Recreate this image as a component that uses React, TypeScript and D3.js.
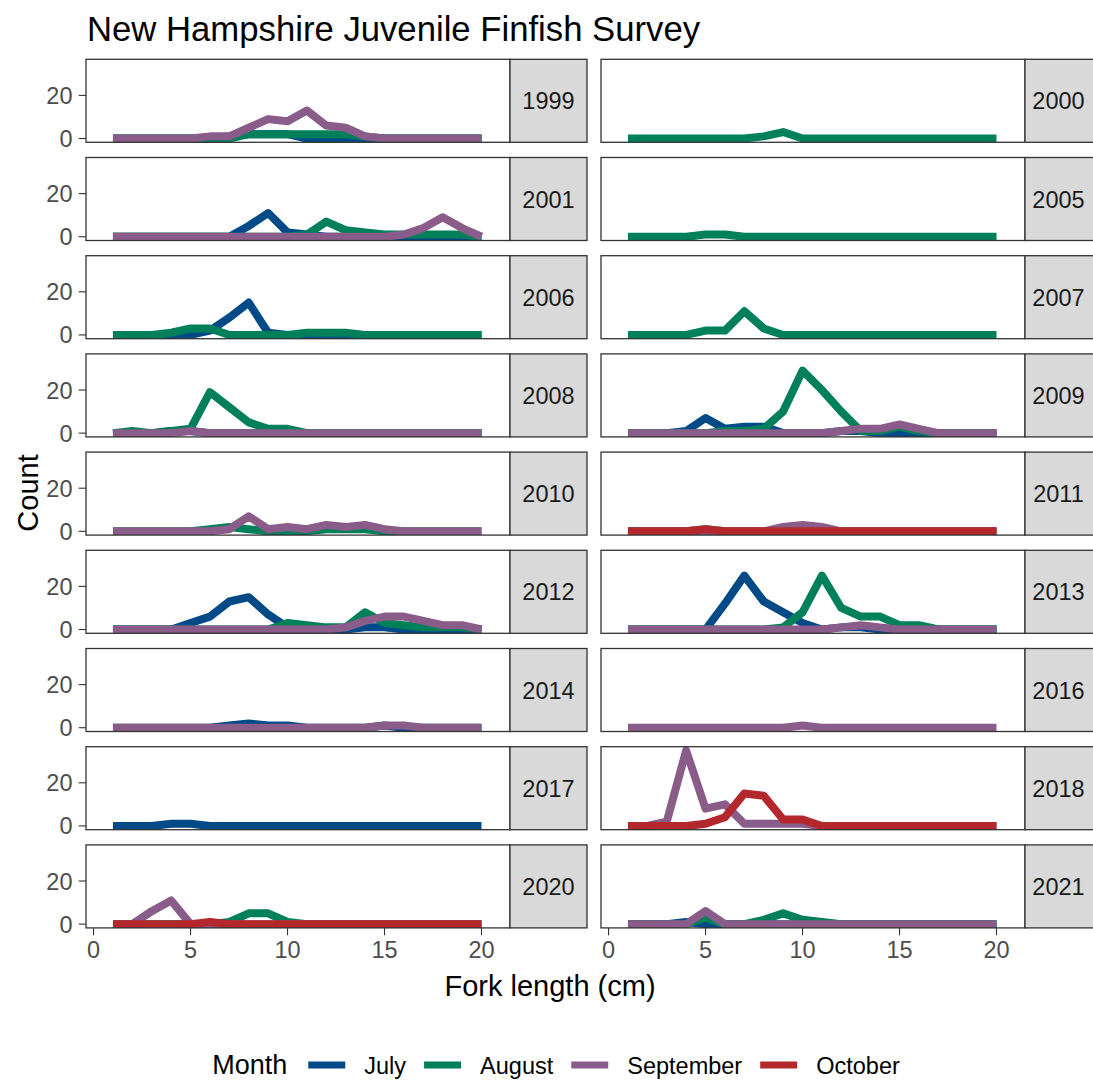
import { useRef, useEffect } from 'react';
import * as d3 from 'd3';

const WIDTH = 1093;
const HEIGHT = 1080;
const FONT = '"Liberation Sans", Arial, sans-serif';

// fork length bins (cm)
const LENGTHS = [1, 2, 3, 4, 5, 6, 7, 8, 9, 10, 11, 12, 13, 14, 15, 16, 17, 18, 19, 20];
const YEARS = [1999, 2000, 2001, 2005, 2006, 2007, 2008, 2009, 2010, 2011, 2012, 2013, 2014, 2016, 2017, 2018, 2020, 2021];
const MONTHS = ['July', 'August', 'September', 'October'];
const MONTH_COLORS = ['#004B87', '#00805A', '#8A5C8A', '#B2282D'];
const X_TICKS = [0, 5, 10, 15, 20];
const Y_TICKS = [0, 20];

// counts per length bin, by year
const JULY: [number, number[]][] = [
	[1999, [0, 0, 0, 0, 0, 0, 1, 2, 2, 2, 0, 0, 0, 0, 0, 0, 0, 0, 0, 0]],
	[2001, [0, 0, 0, 0, 0, 0, 0, 5, 11, 2, 1, 0, 0, 0, 0, 0, 0, 0, 0, 0]],
	[2006, [0, 0, 0, 0, 0, 2, 8, 15, 1, 0, 0, 0, 0, 0, 0, 0, 0, 0, 0, 0]],
	[2008, [0, 0, 0, 1, 1, 0, 0, 0, 0, 0, 0, 0, 0, 0, 0, 0, 0, 0, 0, 0]],
	[2009, [0, 0, 0, 1, 7, 2, 3, 3, 0, 0, 0, 1, 1, 0, 0, 0, 0, 0, 0, 0]],
	[2012, [0, 0, 0, 0, 3, 6, 13, 15, 7, 1, 0, 0, 0, 1, 1, 0, 0, 0, 0, 0]],
	[2013, [0, 0, 0, 0, 0, 12, 25, 13, 8, 3, 0, 1, 1, 0, 0, 0, 0, 0, 0, 0]],
	[2014, [0, 0, 0, 0, 0, 0, 1, 2, 1, 1, 0, 0, 0, 0, 1, 0, 0, 0, 0, 0]],
	[2017, [0, 0, 0, 1, 1, 0, 0, 0, 0, 0, 0, 0, 0, 0, 0, 0, 0, 0, 0, 0]],
	[2021, [0, 0, 0, 1, 0, 0, 0, 0, 0, 0, 0, 0, 0, 0, 0, 0, 0, 0, 0, 0]],
];

const AUGUST: [number, number[]][] = [
	[1999, [0, 0, 0, 0, 0, 0, 0, 2, 2, 2, 2, 2, 2, 1, 0, 0, 0, 0, 0, 0]],
	[2000, [0, 0, 0, 0, 0, 0, 0, 1, 3, 0, 0, 0, 0, 0, 0, 0, 0, 0, 0, 0]],
	[2001, [0, 0, 0, 0, 0, 0, 0, 0, 0, 0, 1, 7, 3, 2, 1, 1, 1, 1, 1, 0]],
	[2005, [0, 0, 0, 0, 1, 1, 0, 0, 0, 0, 0, 0, 0, 0, 0, 0, 0, 0, 0, 0]],
	[2006, [0, 0, 0, 1, 3, 3, 0, 0, 0, 0, 1, 1, 1, 0, 0, 0, 0, 0, 0, 0]],
	[2007, [0, 0, 0, 0, 2, 2, 11, 3, 0, 0, 0, 0, 0, 0, 0, 0, 0, 0, 0, 0]],
	[2008, [0, 1, 0, 1, 2, 19, 12, 5, 2, 2, 0, 0, 0, 0, 0, 0, 0, 0, 0, 0]],
	[2009, [0, 0, 0, 0, 0, 1, 1, 2, 10, 29, 20, 10, 1, 1, 3, 1, 0, 0, 0, 0]],
	[2010, [0, 0, 0, 0, 0, 1, 2, 1, 0, 0, 0, 1, 1, 1, 0, 0, 0, 0, 0, 0]],
	[2011, [0, 0, 0, 0, 1, 0, 0, 0, 0, 2, 1, 0, 0, 0, 0, 0, 0, 0, 0, 0]],
	[2012, [0, 0, 0, 0, 0, 0, 0, 0, 0, 3, 2, 1, 1, 8, 3, 2, 1, 1, 1, 0]],
	[2013, [0, 0, 0, 0, 0, 0, 0, 0, 1, 8, 25, 10, 6, 6, 2, 2, 0, 0, 0, 0]],
	[2020, [0, 0, 0, 0, 0, 0, 1, 5, 5, 1, 0, 0, 0, 0, 0, 0, 0, 0, 0, 0]],
	[2021, [0, 0, 0, 0, 3, 0, 0, 2, 5, 2, 1, 0, 0, 0, 0, 0, 0, 0, 0, 0]],
];

const SEPTEMBER: [number, number[]][] = [
	[1999, [0, 0, 0, 0, 0, 1, 1, 5, 9, 8, 13, 6, 5, 1, 0, 0, 0, 0, 0, 0]],
	[2001, [0, 0, 0, 0, 0, 0, 0, 0, 0, 0, 0, 0, 0, 0, 0, 1, 4, 9, 4, 0]],
	[2008, [0, 0, 0, 0, 1, 0, 0, 0, 0, 0, 0, 0, 0, 0, 0, 0, 0, 0, 0, 0]],
	[2009, [0, 0, 0, 0, 0, 0, 0, 0, 0, 0, 0, 1, 2, 2, 4, 2, 0, 0, 0, 0]],
	[2010, [0, 0, 0, 0, 0, 0, 1, 7, 1, 2, 1, 3, 2, 3, 1, 0, 0, 0, 0, 0]],
	[2011, [0, 0, 0, 0, 0, 0, 0, 0, 2, 3, 2, 0, 0, 0, 0, 0, 0, 0, 0, 0]],
	[2012, [0, 0, 0, 0, 0, 0, 0, 0, 0, 0, 0, 0, 1, 4, 6, 6, 4, 2, 2, 0]],
	[2013, [0, 0, 0, 0, 0, 0, 0, 0, 0, 0, 0, 1, 2, 1, 0, 0, 0, 0, 0, 0]],
	[2014, [0, 0, 0, 0, 0, 0, 0, 0, 0, 0, 0, 0, 0, 0, 1, 1, 0, 0, 0, 0]],
	[2016, [0, 0, 0, 0, 0, 0, 0, 0, 0, 1, 0, 0, 0, 0, 0, 0, 0, 0, 0, 0]],
	[2018, [0, 0, 2, 35, 8, 10, 1, 1, 1, 1, 0, 0, 0, 0, 0, 0, 0, 0, 0, 0]],
	[2020, [0, 0, 6, 11, 0, 0, 0, 0, 0, 0, 0, 0, 0, 0, 0, 0, 0, 0, 0, 0]],
	[2021, [0, 0, 0, 0, 6, 0, 0, 0, 0, 0, 0, 0, 0, 0, 0, 0, 0, 0, 0, 0]],
];

const OCTOBER: [number, number[]][] = [
	[2011, [0, 0, 0, 0, 1, 0, 0, 0, 0, 0, 0, 0, 0, 0, 0, 0, 0, 0, 0, 0]],
	[2018, [0, 0, 0, 0, 1, 4, 15, 14, 3, 3, 0, 0, 0, 0, 0, 0, 0, 0, 0, 0]],
	[2020, [0, 0, 0, 0, 0, 1, 0, 0, 0, 0, 0, 0, 0, 0, 0, 0, 0, 0, 0, 0]],
];

const SERIES = [JULY, AUGUST, SEPTEMBER, OCTOBER];

// layout
const COL_LEFT = [86, 601];
const PANEL_W = 424;
const STRIP_W = [77, 67];
const PANEL_TOP = 59.3;
const PANEL_H = 83;
const ROW_STEP = 98.2;

const Chart = () => {
	const ref = useRef<SVGSVGElement>(null);

	useEffect(() => {
		const svg = d3.select(ref.current);
		svg.selectAll('*').remove();

		svg.append('rect').attr('width', WIDTH).attr('height', HEIGHT).attr('fill', 'white');

		svg.append('text')
			.attr('x', 87).attr('y', 41)
			.attr('font-size', 34.7).attr('fill', '#000')
			.text('New Hampshire Juvenile Finfish Survey');

		const yScaleFor = (row: number) => d3.scaleLinear()
			.domain([-1.75, 36.75])
			.range([PANEL_TOP + row * ROW_STEP + PANEL_H, PANEL_TOP + row * ROW_STEP]);

		const nRows = Math.ceil(YEARS.length / 2);

		YEARS.forEach((year, i) => {
			const row = Math.floor(i / 2);
			const col = i % 2;
			const left = COL_LEFT[col];
			const top = PANEL_TOP + row * ROW_STEP;

			const xScale = d3.scaleLinear().domain([-0.39, 21.47]).range([left, left + PANEL_W]);
			const yScale = yScaleFor(row);

			const clipId = `clip-${year}`;
			svg.append('clipPath').attr('id', clipId)
				.append('rect')
				.attr('x', left).attr('y', top).attr('width', PANEL_W).attr('height', PANEL_H);

			const g = svg.append('g').attr('clip-path', `url(#${clipId})`);

			const line = d3.line<number>()
				.x((_, k) => xScale(LENGTHS[k]))
				.y(d => yScale(d));

			SERIES.forEach((rows, m) => {
				const found = rows.find(r => r[0] === year);
				if (!found) return;
				g.append('path')
					.attr('d', line(found[1]))
					.attr('fill', 'none')
					.attr('stroke', MONTH_COLORS[m])
					.attr('stroke-width', 8)
					.attr('stroke-linejoin', 'round')
					.attr('stroke-linecap', 'butt');
			});

			// panel border
			svg.append('rect')
				.attr('x', left).attr('y', top).attr('width', PANEL_W).attr('height', PANEL_H)
				.attr('fill', 'none').attr('stroke', '#333333').attr('stroke-width', 1.3);

			// strip on the right
			svg.append('rect')
				.attr('x', left + PANEL_W).attr('y', top).attr('width', STRIP_W[col] + (col === 1 ? 4 : 0)).attr('height', PANEL_H)
				.attr('fill', '#D9D9D9').attr('stroke', '#333333').attr('stroke-width', 1.3);
			svg.append('text')
				.attr('x', left + PANEL_W + STRIP_W[col] / 2).attr('y', top + PANEL_H / 2 + 8.5)
				.attr('text-anchor', 'middle').attr('font-size', 23.5).attr('fill', '#1A1A1A')
				.text(String(year));

			// y axis on left column
			if (col === 0) {
				Y_TICKS.forEach(t => {
					const y = yScale(t);
					svg.append('line')
						.attr('x1', left - 7.3).attr('x2', left).attr('y1', y).attr('y2', y)
						.attr('stroke', '#333333').attr('stroke-width', 1.1);
					svg.append('text')
						.attr('x', left - 13.5).attr('y', y + 8.5)
						.attr('text-anchor', 'end').attr('font-size', 23.5).attr('fill', '#4D4D4D')
						.text(String(t));
				});
			}

			// x axis on bottom row
			if (row === nRows - 1) {
				X_TICKS.forEach(t => {
					const x = xScale(t);
					svg.append('line')
						.attr('x1', x).attr('x2', x).attr('y1', top + PANEL_H).attr('y2', top + PANEL_H + 7.3)
						.attr('stroke', '#333333').attr('stroke-width', 1.1);
					svg.append('text')
						.attr('x', x).attr('y', top + PANEL_H + 30)
						.attr('text-anchor', 'middle').attr('font-size', 23.5).attr('fill', '#4D4D4D')
						.text(String(t));
				});
			}
		});

		// axis titles
		svg.append('text')
			.attr('x', 550).attr('y', 996)
			.attr('text-anchor', 'middle').attr('font-size', 29).attr('fill', '#000')
			.text('Fork length (cm)');
		svg.append('text')
			.attr('transform', 'translate(38, 493) rotate(-90)')
			.attr('text-anchor', 'middle').attr('font-size', 29).attr('fill', '#000')
			.text('Count');

		// legend
		const legend = svg.append('g');
		const legendY = 1065;
		let x = 0;
		const title = legend.append('text')
			.attr('x', x).attr('y', legendY + 9)
			.attr('font-size', 27).attr('fill', '#000')
			.text('Month');
		x += (title.node() as SVGTextElement).getComputedTextLength() + 21;
		MONTHS.forEach((name, m) => {
			legend.append('line')
				.attr('x1', x).attr('x2', x + 37).attr('y1', legendY).attr('y2', legendY)
				.attr('stroke', MONTH_COLORS[m]).attr('stroke-width', 7);
			x += 37 + 19;
			const label = legend.append('text')
				.attr('x', x).attr('y', legendY + 8.5)
				.attr('font-size', 23.5).attr('fill', '#000')
				.text(name);
			x += (label.node() as SVGTextElement).getComputedTextLength() + 18;
		});
		const legendW = x - 18;
		legend.attr('transform', `translate(${556 - legendW / 2}, 0)`);
	}, []);

	return (
		<svg
			ref={ref}
			width={WIDTH}
			height={HEIGHT}
			style={{ position: 'absolute', left: 0, top: 0, fontFamily: FONT }}
		/>
	);
};

export default function App() {
	return <Chart />;
}
